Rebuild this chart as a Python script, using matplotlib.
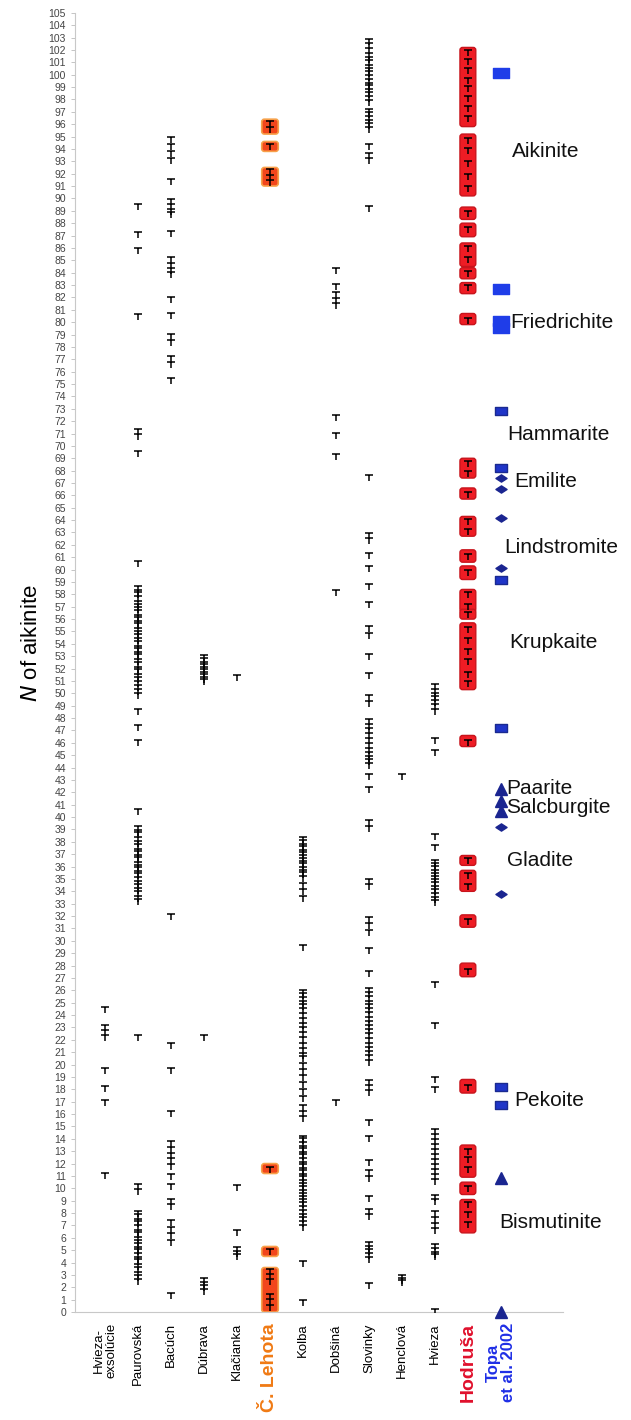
"""N of aikinite per locality, redrawn"""

import matplotlib
matplotlib.use("Agg")
import matplotlib.pyplot as plt
from matplotlib.path import Path
from matplotlib.patches import FancyBboxPatch

plt.rcParams['font.family'] = ['Liberation Sans', 'DejaVu Sans']

# localities along the x axis
sites = ["Hvieza-\nexsolúcie", "Paurovská", "Bacúch", "Dúbrava", "Klačianka", "Č. Lehota",
         "Kolba", "Dobšiná", "Slovinky", "Henclová", "Hvieza", "Hodruša", "Topa\net al. 2002"]

# N of aikinite values
hvieza_exs = [24.5, 23.0, 22.6, 22.2, 19.6, 18.1, 17.0, 11.1]
paurovska = [89.4, 87.1, 85.8, 80.5, 71.2, 70.8, 69.4, 60.5,
             58.5, 58.2, 58.0, 57.7, 57.3, 57.1, 56.8, 56.6, 56.2, 56.0, 55.7, 55.5, 55.1, 54.9,
             54.6, 54.3, 54.1, 53.7, 53.5, 53.2, 53.0, 52.6, 52.4, 52.0, 51.8, 51.4, 51.2, 50.8,
             50.5, 50.2, 49.9, 48.6, 47.3, 46.1, 40.5,
             39.1, 38.8, 38.6, 38.2, 37.9, 37.7, 37.3, 37.1, 36.8, 36.6, 36.2, 36.0, 35.8, 35.5,
             35.3, 35.0, 34.7, 34.4, 34.1, 33.9, 33.5, 33.2,
             22.2, 10.2, 9.8,
             8.0, 7.8, 7.4, 7.2, 6.9, 6.5, 6.3, 5.9, 5.7, 5.4, 5.1, 4.9, 4.6, 4.3, 4.1, 3.7,
             3.5, 3.1, 2.8, 2.5]
bacuch = [94.8, 94.2, 93.7, 93.1, 91.4, 89.8, 89.4, 89.0, 88.7, 87.2, 85.1, 84.6, 84.2, 83.9,
          81.9, 80.6, 78.9, 78.4, 77.1, 76.6, 75.3, 32.0,
          21.6, 19.6, 16.1, 13.7, 13.2, 12.7, 12.3, 11.8, 11.0, 10.2, 9.0, 8.6, 7.3, 6.7,
          6.2, 5.7, 1.4]
dubrava = [52.9, 52.7, 52.4, 52.2, 52.0, 51.8, 51.6, 51.4, 51.2, 51.0, 22.2, 2.6, 2.3, 2.0, 1.7]
klacianka = [51.3, 10.1, 6.5, 5.1, 4.8, 4.5]
lehota = [96.1, 95.6, 94.2, 92.2, 91.7, 91.3, 11.6, 4.9, 3.3, 2.9, 2.5, 1.3, 0.9, 0.4]
kolba = [38.2, 38.0, 37.7, 37.5, 37.2, 37.0, 36.8, 36.5, 36.3, 36.1, 35.8, 35.6, 35.4, 35.1,
         34.5, 34.0, 33.5, 29.5,
         25.9, 25.6, 25.3, 25.0, 24.7, 24.4, 24.0, 23.6, 23.2, 22.9, 22.5, 22.1, 21.6, 21.2,
         20.8, 20.5, 20.0, 19.5, 19.0, 18.4, 17.9, 17.3, 16.6, 16.1, 15.7,
         14.1, 13.9, 13.6, 13.3, 13.1, 12.8, 12.6, 12.3, 12.0, 11.8, 11.5, 11.3, 11.0, 10.8,
         10.5, 10.3, 10.0, 9.7, 9.5, 9.2, 9.0, 8.7, 8.4, 8.1, 7.8, 7.5, 7.2, 6.9, 4.0, 0.8]
dobsina = [84.2, 82.9, 82.3, 81.8, 81.4, 72.3, 70.9, 69.2, 58.2, 17.0]
slovinky = [102.7, 102.4, 102.0, 101.6, 101.3, 101.0, 100.6, 100.4, 100.1, 99.8, 99.5, 99.2,
            99.0, 98.7, 98.4, 98.1, 97.8, 97.1, 96.8, 96.5, 96.2, 95.9, 95.6, 94.2, 93.5, 93.1,
            89.2, 67.5, 62.8, 62.4, 61.2, 60.1, 58.7, 57.2, 55.3, 54.7, 53.0, 51.5, 49.7, 49.2,
            47.8, 47.4, 47.0, 46.6, 46.2, 45.8, 45.4, 45.1, 44.8, 44.5, 44.2, 43.3, 42.3, 39.6,
            39.1, 34.8, 34.4, 31.8, 31.3, 30.7, 29.3, 27.4,
            26.0, 25.7, 25.4, 25.0, 24.7, 24.4, 24.1, 23.7, 23.4, 23.0, 22.7, 22.4, 22.0, 21.6,
            21.3, 20.9, 20.6, 20.2, 18.6, 18.2, 17.8, 15.4, 14.1, 12.1, 11.3, 10.8, 9.2, 8.2,
            7.8, 5.5, 5.2, 4.9, 4.6, 4.3, 2.2]
henclova = [43.3, 2.8, 2.6, 2.4]
hvieza = [50.6, 50.2, 49.9, 49.6, 49.3, 49.0, 48.6, 46.2, 45.3, 38.5, 37.6, 36.4, 36.1, 35.9,
          35.6, 35.3, 35.1, 34.8, 34.6, 34.3, 34.0, 33.7, 33.4, 33.1, 26.5, 23.2, 18.8, 18.0,
          14.6, 14.2, 13.8, 13.4, 13.0, 12.6, 12.2, 11.8, 11.4, 11.0, 10.6, 9.3, 9.0, 8.0,
          7.5, 7.0, 6.6, 5.3, 5.0, 4.7, 4.5, 0.1]
hodrusa = [101.8, 101.1, 100.4, 99.6, 98.9, 98.1, 97.3, 96.5, 94.7, 93.9, 92.9, 91.8, 90.8,
           88.8, 87.5, 86.0, 85.1, 84.0, 82.8, 80.2, 68.6, 67.8, 66.1, 63.9, 63.1, 61.1, 59.8,
           58.0, 57.1, 56.4, 55.2, 54.3, 53.4, 52.6, 51.6, 50.8, 46.1, 36.5, 35.3, 34.4, 31.6,
           27.6, 18.2, 13.0, 12.4, 11.6, 10.0, 8.7, 7.9, 7.1]

site_values = [hvieza_exs, paurovska, bacuch, dubrava, klacianka, lehota, kolba, dobsina,
               slovinky, henclova, hvieza, hodrusa]

# highlighted ranges (lo, hi)
lehota_boxes = [(95.2, 96.4), (93.8, 94.6), (91.0, 92.5), (11.2, 12.0), (4.5, 5.3), (0.0, 3.6)]
hodrusa_boxes = [(95.8, 102.2), (90.2, 95.2), (88.3, 89.3), (86.9, 88.0), (84.5, 86.4),
                 (83.5, 84.4), (82.3, 83.2), (79.8, 80.7), (67.4, 69.0), (65.7, 66.6),
                 (62.7, 64.3), (60.6, 61.6), (59.2, 60.3), (56.6, 58.4), (56.0, 56.8),
                 (50.3, 55.7), (45.7, 46.6), (36.1, 36.9), (34.0, 35.7), (31.1, 32.1),
                 (27.1, 28.2), (17.7, 18.8), (10.9, 13.5), (9.5, 10.5), (6.4, 9.1)]

# Topa et al. 2002 reference phases
topa_sq_bright = [100.1, 82.7, 80.1, 79.5]
topa_sq = [72.8, 68.2, 59.2, 47.2, 18.2, 16.7]
topa_diamond = [67.4, 66.5, 64.2, 60.1, 39.2, 33.8]
topa_triangle = [42.3, 41.3, 40.5, 10.8, 0.0]

minerals = ["Aikinite", "Friedrichite", "Hammarite", "Emilite", "Lindstromite", "Krupkaite",
            "Paarite", "Salcburgite", "Gladite", "Pekoite", "Bismutinite"]
mineral_y = [93.8, 80.0, 70.9, 67.1, 61.8, 54.1, 42.3, 40.8, 36.5, 17.1, 7.2]
mineral_x = [12.35, 12.3, 12.2, 12.4, 12.1, 12.25, 12.15, 12.15, 12.2, 12.4, 11.95]

# T shaped tick marker
t_marker = Path([(-1, 0.4), (1, 0.4), (0, 0.4), (0, -0.9)],
                [Path.MOVETO, Path.LINETO, Path.MOVETO, Path.LINETO])
rect_marker = Path([(-1, -0.7), (1, -0.7), (1, 0.7), (-1, 0.7), (-1, -0.7)],
                   [Path.MOVETO, Path.LINETO, Path.LINETO, Path.LINETO, Path.CLOSEPOLY])
diamond_marker = Path([(-1, 0), (0, 0.65), (1, 0), (0, -0.65), (-1, 0)],
                      [Path.MOVETO, Path.LINETO, Path.LINETO, Path.LINETO, Path.CLOSEPOLY])

fig = plt.figure(figsize=(6.31, 14.2), dpi=100)
ax = fig.add_axes([0.119, 0.076, 0.773, 0.915])

# boxes behind the marks
for lo, hi in lehota_boxes:
    ax.add_patch(FancyBboxPatch((5 - 0.25, lo), 0.5, hi - lo,
                                boxstyle="round,pad=0,rounding_size=0.08", mutation_aspect=2.7,
                                facecolor="#f2461c", edgecolor="#f7a14a", linewidth=1.2, zorder=1))
for lo, hi in hodrusa_boxes:
    ax.add_patch(FancyBboxPatch((11 - 0.24, lo), 0.48, hi - lo,
                                boxstyle="round,pad=0,rounding_size=0.08", mutation_aspect=2.7,
                                facecolor="#ee1c24", edgecolor="#c8141c", linewidth=1.0, zorder=1))

for i, vals in enumerate(site_values):
    ax.plot([i] * len(vals), vals, linestyle="none", marker=t_marker, markersize=6,
            markeredgewidth=1.1, color="black", zorder=3)

ax.plot([12] * len(topa_sq_bright), topa_sq_bright, linestyle="none", marker=rect_marker,
        markersize=11, color="#1f3de8", markeredgecolor="#1f3de8", zorder=3)
ax.plot([12] * len(topa_sq), topa_sq, linestyle="none", marker=rect_marker,
        markersize=8, color="#1f35c8", markeredgecolor="#1a2a90", zorder=3)
ax.plot([12] * len(topa_diamond), topa_diamond, linestyle="none", marker=diamond_marker,
        markersize=8, color="#1a2590", markeredgecolor="#1a2590", zorder=3)
ax.plot([12] * len(topa_triangle), topa_triangle, linestyle="none", marker="^",
        markersize=8, color="#1a2590", markeredgecolor="#1a2590", zorder=4, clip_on=False)

for name, x, y in zip(minerals, mineral_x, mineral_y):
    ax.text(x, y, name, fontsize=15, ha="left", va="center", color="#111111", clip_on=False)

ax.set_xlim(-0.91, 13.88)
ax.set_ylim(0, 105)
ax.set_yticks(range(0, 106))
ax.tick_params(axis="y", labelsize=7.5, labelcolor="#444444", color="#bbbbbb", length=3, width=0.6)
ax.set_xticks(range(len(sites)))
ax.set_xticklabels(sites, rotation=90, va="top", ha="center", fontsize=9.5)
ax.tick_params(axis="x", length=0, pad=8)

label_styles = {5: ("#f07a14", 14), 11: ("#e0102c", 14), 12: ("#1f2fe6", 12)}
for i, lab in enumerate(ax.get_xticklabels()):
    if i in label_styles:
        lab.set_color(label_styles[i][0])
        lab.set_fontsize(label_styles[i][1])
        lab.set_fontweight("bold")
    lab.set_linespacing(1.0)

for side in ["top", "right"]:
    ax.spines[side].set_visible(False)
ax.spines["left"].set_color("#c8c8c8")
ax.spines["bottom"].set_color("#c8c8c8")

ax.set_ylabel(r"$N$ of aikinite", fontsize=16)
ax.yaxis.set_label_coords(-0.068, 0.515)

plt.savefig("out.png", dpi=100)
